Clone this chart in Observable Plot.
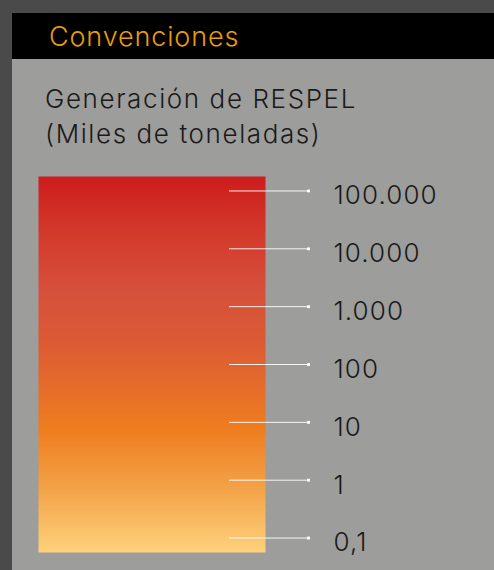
<!DOCTYPE html>
<html>
<head>
<meta charset="utf-8">
<script src="https://cdn.jsdelivr.net/npm/d3@7"></script>
<script src="https://cdn.jsdelivr.net/npm/@observablehq/plot@0.6"></script>
<style>
  html, body { margin: 0; padding: 0; }
  body { width: 494px; height: 570px; background: #4a4a4a; position: relative; overflow: hidden; font-family: Inter, "Open Sans", sans-serif; }
  #header { position: absolute; left: 12px; top: 13px; width: 482px; height: 46px; background: #000; }
  #header span { position: absolute; left: 37px; top: 9px; font-size: 27px; font-weight: 300; color: #e89c0c; line-height: 30px; letter-spacing: 0.85px; }
  #panel { position: absolute; left: 12px; top: 59px; width: 482px; height: 511px; background: #9d9d9b; }
  #subtitle { position: absolute; left: 33px; top: 22px; font-size: 26px; font-weight: 300; line-height: 35px; color: #1a1a1a; letter-spacing: 1.6px; }
  #chart { position: absolute; left: 0px; top: 106px; }
  #chart svg text { letter-spacing: 1.1px; }
</style>
</head>
<body>
<div id="header"><span>Convenciones</span></div>
<div id="panel">
  <div id="subtitle">Generación de RESPEL<br>(Miles de toneladas)</div>
  <div id="chart"></div>
</div>
<script>
// Tick values (miles de toneladas) and their labels
const tickValues = [0.1, 1, 10, 100, 1000, 10000, 100000];
const tickLabels = ["0,1", "1", "10", "100", "1.000", "10.000", "100.000"];
// Gradient colour stops, top to bottom
const gradientColors = ["#cd1c1c", "#d33a2c", "#d6503c", "#dc5c34", "#ee7d1f", "#f3a046", "#fdd27c"];
const gradientStops = [1, 0.85, 0.7, 0.55, 0.33, 0.18, 0];

const lo = Math.log10(tickValues[0]) - 0.25;
const hi = Math.log10(tickValues[tickValues.length - 1]) + 0.25;

const chart = Plot.plot({
  width: 482,
  height: 400,
  marginTop: 11,
  marginBottom: 13,
  marginLeft: 26,
  marginRight: 229,
  style: { background: "transparent", overflow: "visible" },
  x: { domain: [0, 1], axis: null },
  y: { domain: [lo, hi], axis: null },
  color: {
    type: "linear",
    domain: gradientStops.map(s => lo + s * (hi - lo)),
    range: gradientColors,
    interpolate: "rgb"
  },
  marks: [
    Plot.raster({
      x1: 0, x2: 1, y1: lo, y2: hi,
      width: 4, height: 376,
      fill: (x, y) => y,
      imageRendering: "auto"
    }),
    Plot.axisY(tickValues.map(v => Math.log10(v)), {
      anchor: "right",
      tickSize: 80,
      dx: -37,
      stroke: "#ffffff",
      strokeOpacity: 0.9,
      tickFormat: () => "",
      label: null
    }),
    Plot.dot(tickValues, {
      y: d => Math.log10(d),
      frameAnchor: "right",
      dx: 43,
      symbol: "square",
      r: 1.6,
      fill: "#ffffff",
      stroke: null
    }),
    Plot.text(tickValues, {
      y: d => Math.log10(d),
      text: (d, i) => tickLabels[i],
      frameAnchor: "right",
      textAnchor: "start",
      dx: 68,
      dy: 5,
      fontSize: 26,
      fontWeight: 300,
      fontFamily: "Inter",
      fill: "#1a1a1a"
    })
  ]
});
document.getElementById("chart").appendChild(chart);
</script>
</body>
</html>
